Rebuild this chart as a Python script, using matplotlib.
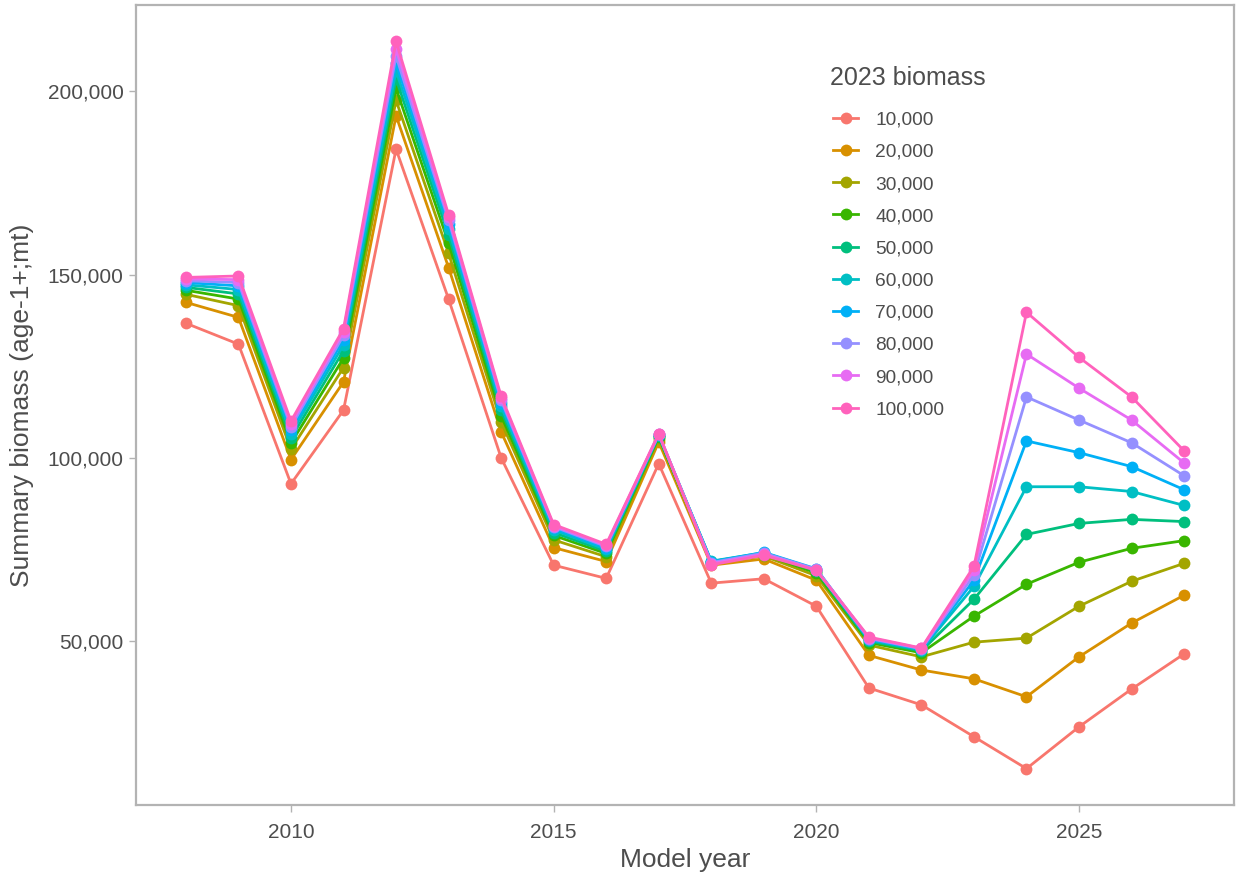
import matplotlib
matplotlib.use("Agg")
import matplotlib.pyplot as plt
from matplotlib.ticker import FuncFormatter

plt.rcParams['font.family'] = ['Liberation Sans', 'DejaVu Sans']

years = list(range(2008, 2028))
scenario_labels = ["10,000", "20,000", "30,000", "40,000", "50,000",
                   "60,000", "70,000", "80,000", "90,000", "100,000"]
colors = ["#F8766D", "#D89000", "#A3A500", "#39B600", "#00BF7D",
          "#00BFC4", "#00B0F6", "#9590FF", "#E76BF3", "#FF62BC"]

# Summary biomass (thousand mt), one list per 2023-biomass scenario
b10k = [136.7, 131.0, 92.9, 113.0, 184.2, 143.3, 100.0, 70.7, 67.1, 98.4, 65.8, 67.0, 59.5, 37.2, 32.6, 23.9, 15.2, 26.6, 36.9, 46.5]
b20k = [142.4, 138.3, 99.5, 120.7, 193.3, 151.9, 107.1, 75.5, 71.7, 104.3, 70.7, 72.4, 66.6, 46.1, 42.1, 39.7, 34.8, 45.7, 54.9, 62.5]
b30k = [144.6, 141.5, 102.3, 124.6, 197.5, 155.8, 109.8, 77.6, 73.0, 105.2, 71.2, 73.2, 67.8, 48.9, 45.7, 49.7, 50.8, 59.5, 66.3, 71.2]
b40k = [145.7, 143.3, 104.0, 127.2, 200.8, 158.6, 111.5, 78.8, 73.9, 105.7, 71.5, 73.6, 68.6, 49.6, 46.8, 56.8, 65.5, 71.5, 75.3, 77.4]
b50k = [146.5, 144.7, 105.4, 129.2, 203.4, 160.7, 112.9, 79.6, 74.5, 106.0, 71.7, 73.9, 69.1, 50.0, 47.3, 61.4, 79.1, 82.1, 83.2, 82.6]
b60k = [147.2, 145.9, 106.6, 130.8, 205.6, 162.4, 114.0, 80.3, 75.0, 106.2, 71.8, 74.1, 69.5, 50.3, 47.6, 64.9, 92.1, 92.1, 90.8, 87.0]
b70k = [147.8, 146.9, 107.6, 132.2, 207.7, 163.7, 114.9, 80.8, 75.4, 106.3, 71.6, 74.2, 69.7, 50.5, 47.8, 66.6, 104.6, 101.4, 97.6, 91.3]
b80k = [148.3, 147.8, 108.5, 133.4, 209.6, 164.8, 115.7, 81.2, 75.8, 106.4, 71.4, 74.0, 69.6, 50.7, 47.9, 68.0, 116.6, 110.3, 104.1, 95.1]
b90k = [148.8, 148.6, 109.3, 134.4, 211.6, 165.6, 116.3, 81.5, 76.1, 106.5, 71.1, 73.7, 69.4, 50.9, 48.0, 69.3, 128.3, 119.0, 110.3, 98.6]
b100k = [149.2, 149.6, 110.0, 135.2, 213.6, 166.3, 116.8, 81.8, 76.4, 106.6, 70.8, 73.4, 69.3, 51.1, 48.1, 70.4, 139.7, 127.4, 116.6, 101.9]

series = [b10k, b20k, b30k, b40k, b50k, b60k, b70k, b80k, b90k, b100k]

fig = plt.figure(figsize=(12.38, 8.75), dpi=100)
ax = fig.add_axes([136/1238, 1 - 805/875, (1234 - 136)/1238, (805 - 5)/875])

for vals, lab, col in zip(series, scenario_labels, colors):
    ax.plot(years, [v * 1000 for v in vals], color=col, lw=2.0,
            marker='o', markersize=8.5, markeredgewidth=0, label=lab)

allv = [v * 1000 for s in series for v in s]
lo, hi = min(allv), max(allv)
pad = 0.05 * (hi - lo)
ax.set_ylim(lo - pad, hi + pad)
xpad = 0.05 * (years[-1] - years[0])
ax.set_xlim(years[0] - xpad, years[-1] + xpad)

ax.set_yticks([50000, 100000, 150000, 200000])
ax.set_xticks([2010, 2015, 2020, 2025])
ax.yaxis.set_major_formatter(FuncFormatter(lambda v, p: f"{int(v):,}"))

for sp in ax.spines.values():
    sp.set_color("#B3B3B3")
    sp.set_linewidth(1.6)
ax.tick_params(axis='both', colors="#B3B3B3", labelcolor="#4D4D4D",
               labelsize=15, length=5, width=1.0)
ax.tick_params(axis='x', pad=8)
ax.tick_params(axis='y', pad=4)

ax.set_xlabel("Model year", fontsize=19, color="#4D4D4D", labelpad=4)
ax.set_ylabel("Summary biomass (age-1+;mt)", fontsize=19, color="#4D4D4D", labelpad=10)

fig.text(830/1238, 1 - 78/875, "2023 biomass", fontsize=18, color="#4D4D4D",
         ha='left', va='center')
leg = ax.legend(loc='upper left', bbox_to_anchor=(816/1238, 1 - 94/875),
                bbox_transform=fig.transFigure, frameon=False,
                fontsize=13.8, handlelength=1.3, handletextpad=0.88,
                labelspacing=0.77)
for t in leg.get_texts():
    t.set_color("#4D4D4D")

fig.savefig("out.png", dpi=100)
